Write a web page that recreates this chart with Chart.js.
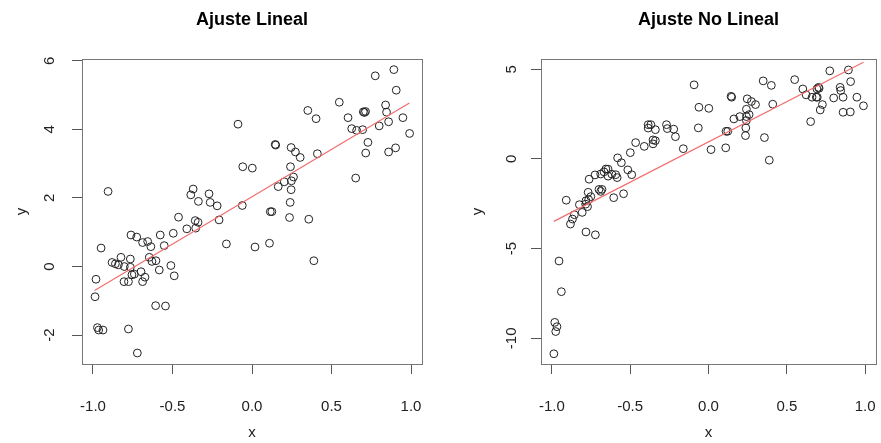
<!DOCTYPE html>
<html lang="es">
<head>
  <meta charset="UTF-8">
  <title>Ajuste Lineal / Ajuste No Lineal</title>
  <script src="https://cdn.jsdelivr.net/npm/chart.js"></script>
  <style>
    body { margin: 0; background: #fff; }
    canvas { position: absolute; top: 0; }
  </style>
</head>
<body>
  <canvas id="lineal" width="440" height="443" style="left:0"></canvas>
  <canvas id="nolineal" width="441" height="443" style="left:440px"></canvas>

  <script>
    // --- datos: ajuste lineal ---
    const linX = [-0.905, -0.949, -0.981, -0.987, -0.880, -0.859, -0.840, -0.824, -0.803, -0.765,
      -0.765, -0.805, -0.777, -0.755, -0.740, -0.698, -0.673, -0.688, -0.761, -0.725,
      -0.688, -0.656, -0.636, -0.646, -0.629, -0.604, -0.583, -0.577, -0.552, -0.510,
      -0.489, -0.495, -0.462, -0.410, -0.357, -0.339, -0.354, -0.385, -0.370, -0.337,
      -0.270, -0.263, -0.219, -0.207, -0.161, -0.061, -0.088, -0.058, 0.002, 0.019,
      0.110, 0.115, 0.125, 0.146, 0.149, 0.246, 0.273, 0.303, 0.351, 0.403,
      0.411, 0.242, 0.165, 0.203, 0.248, 0.261, 0.246, 0.240, 0.236, 0.357,
      0.389, 0.549, 0.604, 0.627, 0.658, 0.696, 0.700, 0.707, 0.714, 0.729,
      0.715, 0.652, 0.775, 0.892, 0.907, 0.840, 0.846, 0.859, 0.800, 0.949,
      0.991, 0.859, 0.903, -0.606, -0.544, -0.777, -0.721, -0.972, -0.964, -0.937];
    const linY = [2.19, 0.54, -0.37, -0.88, 0.12, 0.08, 0.05, 0.27, 0.00, 0.22,
      -0.02, -0.44, -0.44, -0.24, -0.22, -0.15, -0.31, -0.44, 0.92, 0.86,
      0.70, 0.73, 0.58, 0.27, 0.15, 0.17, -0.10, 0.92, 0.61, 0.03,
      -0.27, 0.97, 1.44, 1.10, 1.34, 1.29, 1.12, 2.09, 2.26, 1.90,
      2.12, 1.87, 1.77, 1.36, 0.66, 1.78, 4.15, 2.91, 2.87, 0.57,
      0.68, 1.60, 1.60, 3.56, 3.54, 3.47, 3.34, 3.18, 4.55, 4.31,
      3.29, 2.91, 2.33, 2.47, 2.50, 2.61, 2.24, 1.87, 1.43, 1.38,
      0.17, 4.79, 4.34, 4.02, 3.97, 3.99, 4.51, 4.49, 4.52, 3.62,
      3.31, 2.58, 5.56, 5.74, 5.14, 4.71, 4.50, 4.22, 4.10, 4.34,
      3.88, 3.34, 3.46, -1.14, -1.15, -1.82, -2.52, -1.78, -1.85, -1.85];
    const linFitX = [-0.99, 0.99];
    const linFitY = [-0.70, 4.77];

    // --- datos: ajuste no lineal ---
    const nlX = [-0.092, -0.061, 0.002, -0.065, -0.385, -0.368, -0.339, -0.385, -0.268, -0.263,
      -0.222, -0.211, -0.161, 0.016, -0.465, -0.410, -0.354, -0.339, -0.354, -0.499,
      -0.580, -0.556, -0.515, -0.490, -0.655, -0.641, -0.667, -0.688, -0.724, -0.762,
      -0.641, -0.617, -0.592, -0.583, -0.699, -0.680, -0.688, -0.768, -0.751, -0.765,
      -0.782, -0.605, -0.542, -0.908, -0.824, -0.784, -0.772, -0.806, -0.856, -0.868,
      -0.881, -0.782, -0.722, -0.954, -0.939, -0.981, -0.967, -0.975, -0.987, 0.110,
      0.112, 0.123, 0.144, 0.148, 0.162, 0.200, 0.242, 0.259, 0.247, 0.274,
      0.300, 0.242, 0.242, 0.238, 0.236, 0.349, 0.401, 0.410, 0.357, 0.388,
      0.550, 0.602, 0.623, 0.661, 0.692, 0.706, 0.702, 0.688, 0.694, 0.727,
      0.713, 0.652, 0.774, 0.893, 0.907, 0.840, 0.844, 0.799, 0.859, 0.947,
      0.989, 0.859, 0.905];
    const nlY = [4.13, 2.88, 2.82, 1.73, 1.91, 1.91, 1.63, 1.72, 1.91, 1.69,
      1.66, 1.24, 0.57, 0.52, 0.91, 0.70, 1.06, 1.02, 0.84, 0.35,
      0.06, -0.21, -0.61, -0.88, -0.56, -0.57, -0.72, -0.84, -0.89, -1.13,
      -0.96, -0.85, -0.88, -1.04, -1.70, -1.70, -1.81, -1.86, -2.10, -2.27,
      -2.33, -2.16, -1.94, -2.30, -2.55, -2.52, -2.66, -2.98, -3.11, -3.35,
      -3.63, -4.07, -4.23, -5.69, -7.40, -9.11, -9.35, -9.62, -10.86, 0.62,
      1.54, 1.54, 3.49, 3.44, 2.23, 2.36, 2.36, 2.47, 3.35, 3.20,
      3.03, 2.77, 2.14, 1.73, 1.30, 4.35, 4.10, 3.05, 1.19, -0.07,
      4.42, 3.90, 3.57, 3.44, 3.90, 3.94, 3.99, 3.44, 3.44, 3.03,
      2.73, 2.08, 4.91, 4.96, 4.31, 3.99, 3.81, 3.40, 3.44, 3.44,
      2.96, 2.60, 2.62];
    const nlFitX = [-0.987, 0.989];
    const nlFitY = [-3.48, 5.39];

    const xTicks = [-1, -0.5, 0, 0.5, 1];
    const linYTicks = [-2, 0, 2, 4, 6];
    const nlYTicks = [-10, -5, 0, 5];

    const FONT = '"Liberation Sans", Arial, Helvetica, sans-serif';

    // caja, etiquetas y titulos al estilo de R base
    const rStyle = {
      id: 'rStyle',
      afterDraw(chart, args, o) {
        const { ctx, chartArea: a, scales: { x, y } } = chart;
        ctx.save();
        ctx.strokeStyle = '#777';
        ctx.lineWidth = 1;
        ctx.strokeRect(a.left + 0.5, a.top + 0.5, a.width, a.height);

        ctx.fillStyle = '#222';
        ctx.textAlign = 'center';
        ctx.textBaseline = 'middle';
        ctx.font = '15px ' + FONT;
        x.ticks.forEach(t => ctx.fillText(t.value.toFixed(1), x.getPixelForValue(t.value), o.xLabelY));
        y.ticks.forEach(t => {
          ctx.save();
          ctx.translate(o.yLabelX, y.getPixelForValue(t.value));
          ctx.rotate(-Math.PI / 2);
          ctx.fillText(String(t.value), 0, 0);
          ctx.restore();
        });

        const cx = (a.left + a.right) / 2;
        ctx.fillText('x', cx, o.xTitleY);
        ctx.save();
        ctx.translate(o.yTitleX, (a.top + a.bottom) / 2);
        ctx.rotate(-Math.PI / 2);
        ctx.fillText('y', 0, 0);
        ctx.restore();

        ctx.font = 'bold 18px ' + FONT;
        ctx.fillStyle = '#000';
        ctx.fillText(o.title, cx, 20);
        ctx.restore();
      }
    };

    function panel(id, xs, ys, fitX, fitY, yTicks, yMin, yMax, axisW, padRight, labels) {
      const pts = xs.map((v, i) => ({ x: v, y: ys[i] }));
      const fit = fitX.map((v, i) => ({ x: v, y: fitY[i] }));
      const tickGrid = { drawOnChartArea: false, drawTicks: true, tickLength: 10, color: '#555', lineWidth: 1 };
      return new Chart(document.getElementById(id), {
        type: 'scatter',
        data: {
          datasets: [
            { data: fit, type: 'line', borderColor: '#f26d6d', borderWidth: 1.2, pointRadius: 0, fill: false },
            { data: pts, pointStyle: 'circle', pointRadius: 3.9, borderWidth: 1,
              borderColor: '#222', backgroundColor: 'rgba(0,0,0,0)' }
          ]
        },
        options: {
          responsive: false,
          animation: false,
          layout: { padding: { top: 59, right: padRight, left: 0, bottom: 0 } },
          plugins: { legend: { display: false }, tooltip: { enabled: false }, rStyle: labels },
          scales: {
            x: {
              type: 'linear', min: -1.069, max: 1.069,
              afterBuildTicks: s => { s.ticks = xTicks.map(v => ({ value: v })); },
              afterFit: s => { s.height = 79; },
              ticks: { display: false },
              grid: tickGrid,
              border: { display: false }
            },
            y: {
              type: 'linear', min: yMin, max: yMax,
              afterBuildTicks: s => { s.ticks = yTicks.map(v => ({ value: v })); },
              afterFit: s => { s.width = axisW; },
              ticks: { display: false },
              grid: tickGrid,
              border: { display: false }
            }
          }
        },
        plugins: [rStyle]
      });
    }

    panel('lineal', linX, linY, linFitX, linFitY, linYTicks, -2.84, 6.05, 82, 18,
      { title: 'Ajuste Lineal', xLabelY: 407, yLabelX: 50, xTitleY: 433, yTitleX: 22 });
    panel('nolineal', nlX, nlY, nlFitX, nlFitY, nlYTicks, -11.43, 5.57, 101, 1,
      { title: 'Ajuste No Lineal', xLabelY: 407, yLabelX: 72, xTitleY: 433, yTitleX: 38 });
  </script>
</body>
</html>
